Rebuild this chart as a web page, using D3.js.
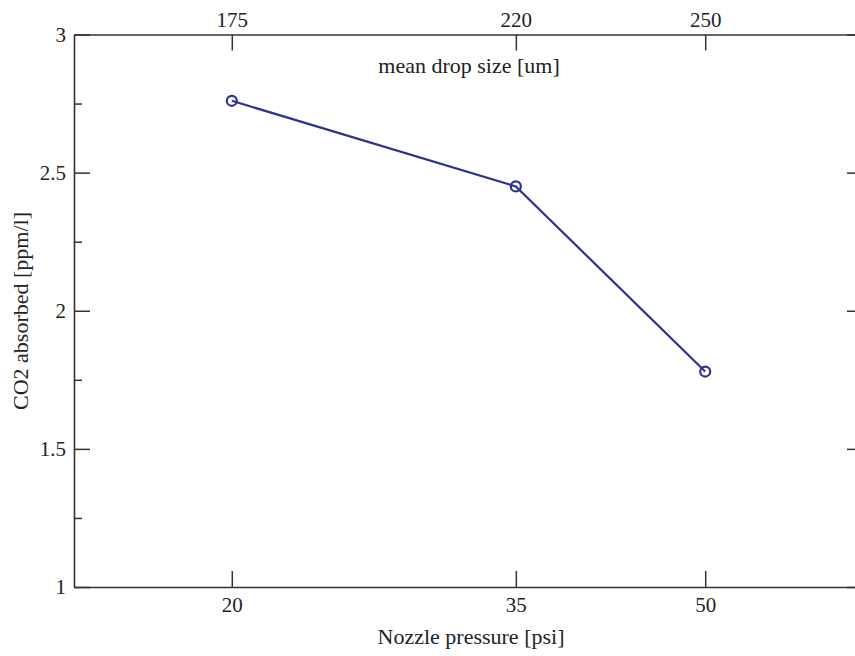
<!DOCTYPE html>
<html lang="en">
<head>
    <meta charset="UTF-8">
    <title>CO2 absorbed vs nozzle pressure</title>
    <script src="https://cdnjs.cloudflare.com/ajax/libs/d3/7.8.5/d3.min.js"></script>
    <style>
        html, body { margin: 0; padding: 0; background: #fff; }
        svg { display: block; }
        .axis path, .axis line { stroke: #333; }
    </style>
</head>
<body>
<svg width="855" height="656"></svg>

<script>
    // data
    const dropSize = [175, 220, 250];      // mean drop size [um], top axis
    const pressure = [20, 35, 50];         // nozzle pressure [psi], bottom axis
    const co2 = [2.76, 2.45, 1.78];        // CO2 absorbed [ppm/l]
    const yTicks = [1, 1.5, 2, 2.5, 3];
    const yMinor = [1.25, 1.75, 2.25, 2.75];

    const serif = "'Liberation Serif', 'DejaVu Serif', serif";
    const svg = d3.select("svg");
    const plotLeft = 74, plotRight = 863, plotTop = 34.5, plotBottom = 587;

    const x = d3.scaleLinear().domain([150, 275]).range([plotLeft, plotRight]);
    const y = d3.scaleLinear().domain([1, 3]).range([plotBottom, plotTop]);

    const pressureOf = d3.scaleOrdinal().domain(dropSize).range(pressure);

    function styleAxis(g) {
        g.attr("font-family", serif).attr("font-size", 21);
        g.selectAll("text").attr("fill", "#222");
        g.select(".domain").attr("stroke-width", 1.6);
        g.selectAll(".tick line").attr("stroke-width", 1.5);
    }

    // bottom axis: ticks sit at drop sizes, labelled with pressure
    svg.append("g")
        .attr("class", "axis")
        .attr("transform", `translate(0,${plotBottom})`)
        .call(d3.axisBottom(x).tickValues(dropSize).tickSizeInner(-16).tickSizeOuter(0)
            .tickPadding(10).tickFormat(d => pressureOf(d)))
        .call(styleAxis);

    svg.append("g")
        .attr("class", "axis")
        .attr("transform", `translate(0,${plotTop})`)
        .call(d3.axisTop(x).tickValues(dropSize).tickSizeInner(-16).tickSizeOuter(0)
            .tickPadding(8).tickFormat(d3.format("d")))
        .call(styleAxis);

    svg.append("g")
        .attr("class", "axis")
        .attr("transform", `translate(${plotLeft},0)`)
        .call(d3.axisLeft(y).tickValues(yTicks).tickSizeInner(-16).tickSizeOuter(0)
            .tickPadding(8).tickFormat(d3.format("")))
        .call(styleAxis);

    svg.append("g")
        .attr("class", "axis")
        .attr("transform", `translate(${plotLeft},0)`)
        .call(d3.axisLeft(y).tickValues(yMinor).tickSizeInner(-8).tickSizeOuter(0).tickFormat(""))
        .call(styleAxis)
        .call(g => g.select(".domain").remove());

    svg.append("g")
        .attr("class", "axis")
        .attr("transform", `translate(${plotRight},0)`)
        .call(d3.axisRight(y).tickValues(yTicks).tickSizeInner(-16).tickSizeOuter(0).tickFormat(""))
        .call(styleAxis);

    // axis titles
    const title = (sel) => sel
        .attr("text-anchor", "middle")
        .attr("font-family", serif)
        .attr("font-size", 22)
        .attr("fill", "#222");

    svg.append("text")
        .attr("x", 469).attr("y", 73)
        .call(title)
        .text("mean drop size [um]");

    svg.append("text")
        .attr("x", 471).attr("y", 644)
        .call(title)
        .text("Nozzle pressure [psi]");

    svg.append("text")
        .attr("transform", "translate(28,311) rotate(-90)")
        .call(title)
        .text("CO2 absorbed [ppm/l]");

    // series
    const points = dropSize.map((d, i) => ({ x: d, y: co2[i] }));

    svg.append("path")
        .datum(points)
        .attr("fill", "none")
        .attr("stroke", "#2e3192")
        .attr("stroke-width", 2.2)
        .attr("d", d3.line().x(d => x(d.x)).y(d => y(d.y)));

    svg.append("g")
        .selectAll("circle")
        .data(points)
        .enter()
        .append("circle")
        .attr("cx", d => x(d.x))
        .attr("cy", d => y(d.y))
        .attr("r", 5)
        .attr("fill", "none")
        .attr("stroke", "#2e3192")
        .attr("stroke-width", 2.2);
</script>
</body>
</html>
